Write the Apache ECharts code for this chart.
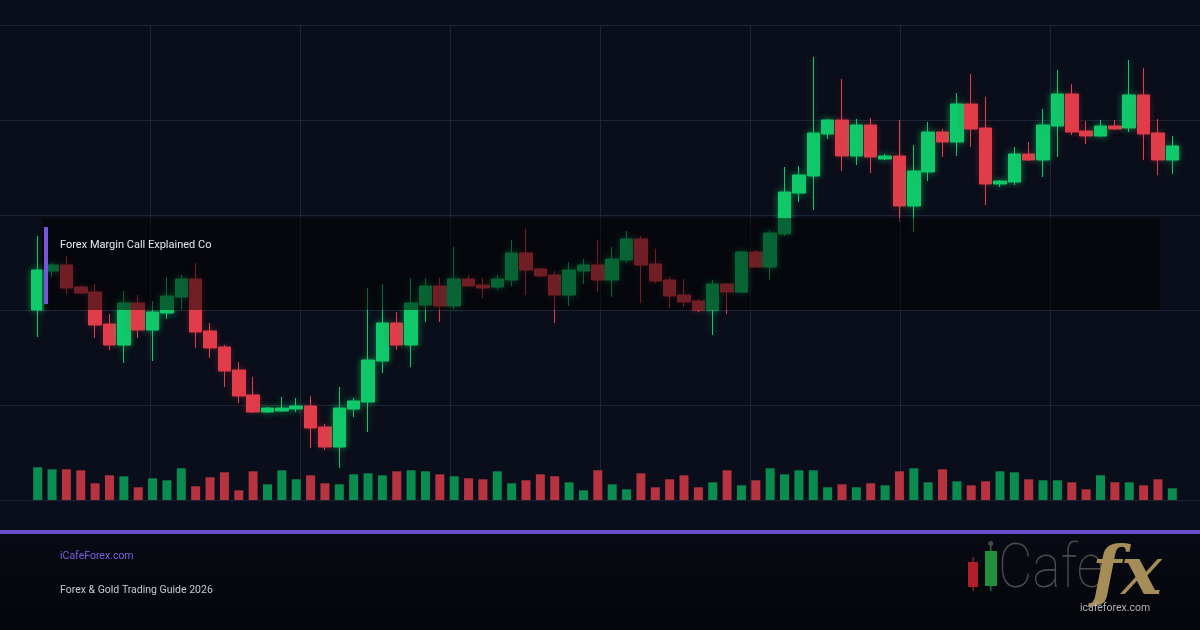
<!DOCTYPE html>
<html>
<head>
<meta charset="utf-8">
<script src="https://cdn.jsdelivr.net/npm/echarts@6/dist/echarts.min.js"></script>
<style>
html,body{margin:0;padding:0;background:#0a0e1a;}
#chart{width:1200px;height:630px;}
</style>
</head>
<body>
<div id="chart"></div>
<script>
// ---- data ----
var categories = Array.from({length: 80}, function (_, i) { return 'D' + (i + 1); });
// [open, close, low, high]
var ohlc = [
  [2190,2230,2163,2264],[2229,2235,2223,2237],[2235,2212,2206,2244],[2213,2207,2206,2214],
  [2208,2175,2162,2216],[2176,2155,2150,2186],[2155,2197,2137,2209],[2197,2170,2162,2205],
  [2170,2188,2139,2199],[2187,2204,2181,2223],[2203,2221,2190,2225],[2221,2168,2152,2237],
  [2169,2152,2142,2177],[2153,2129,2113,2155],[2130,2104,2097,2138],[2105,2088,2087,2123],
  [2088,2092,2087,2093],[2089,2092,2088,2103],[2091,2094,2088,2102],[2094,2072,2052,2104],
  [2073,2053,2050,2076],[2053,2092,2032,2113],[2091,2099,2083,2102],[2098,2140,2068,2212],
  [2139,2177,2127,2216],[2177,2155,2150,2188],[2155,2197,2133,2222],[2195,2214,2178,2222],
  [2214,2194,2178,2222],[2194,2221,2191,2253],[2221,2214,2214,2225],[2215,2212,2202,2222],
  [2213,2221,2210,2225],[2220,2247,2214,2260],[2247,2230,2205,2271],[2231,2224,2223,2232],
  [2225,2205,2177,2229],[2205,2230,2194,2238],[2229,2235,2216,2241],[2235,2220,2208,2260],
  [2220,2241,2203,2253],[2240,2261,2237,2269],[2261,2235,2197,2264],[2236,2219,2217,2251],
  [2220,2204,2192,2223],[2205,2198,2193,2221],[2199,2190,2188,2201],[2190,2216,2165,2220],
  [2216,2208,2186,2217],[2208,2248,2207,2249],[2248,2233,2233,2250],[2233,2267,2220,2270],
  [2266,2308,2264,2333],[2307,2325,2298,2334],[2324,2367,2290,2443],[2366,2380,2361,2381],
  [2380,2344,2329,2421],[2344,2375,2335,2381],[2375,2343,2327,2382],[2341,2344,2340,2346],
  [2344,2294,2278,2380],[2294,2329,2268,2355],[2328,2368,2319,2378],[2368,2358,2343,2371],
  [2358,2396,2344,2407],[2396,2371,2353,2426],[2372,2316,2295,2403],[2316,2319,2313,2320],
  [2318,2346,2315,2353],[2346,2340,2339,2358],[2340,2375,2323,2391],[2374,2406,2343,2430],
  [2406,2368,2365,2416],[2369,2364,2356,2379],[2364,2374,2363,2380],[2374,2371,2370,2380],
  [2372,2405,2368,2440],[2405,2366,2340,2432],[2367,2340,2325,2381],[2340,2354,2326,2364]
];
var volumes = [
  32.7,30.7,30.7,29.7,16.7,24.7,23.7,12.7,21.7,19.7,31.7,13.7,22.7,27.7,9.7,28.7,
  15.7,29.7,20.7,24.7,16.7,15.7,25.7,26.7,24.7,28.7,29.7,28.7,25.7,23.7,21.7,20.7,
  28.7,16.7,19.7,25.7,23.7,17.7,9.7,29.7,15.7,10.7,26.7,12.7,20.7,24.7,12.7,17.7,
  29.7,14.7,19.7,31.7,25.7,29.7,29.7,12.7,15.7,12.7,16.7,14.7,28.7,31.7,17.7,30.7,
  18.7,14.7,18.7,28.7,27.7,20.7,19.7,19.7,17.7,10.7,24.7,17.7,17.7,14.7,20.7,11.7
];
var titleText = 'Forex Margin Call Explained Co';
var siteText = 'iCafeForex.com';
var subtitleText = 'Forex & Gold Trading Guide 2026';

// ---- styles ----
var UP = '#10c96b', DOWN = '#e23d4b';
var UP_VOL = '#0a8c50', DOWN_VOL = '#b7333f';
var GRID_LINE = '#1f2537';

var candleData = ohlc.map(function (d) {
  var up = d[1] >= d[0];
  return {
    value: d,
    itemStyle: { shadowBlur: 7, shadowColor: up ? 'rgba(16,201,107,0.55)' : 'rgba(226,61,75,0.3)' }
  };
});

var chart = echarts.init(document.getElementById('chart'), null, {renderer: 'canvas'});
var option = {
  animation: false,
  backgroundColor: '#0a0e1a',
  grid: [
    {left: 0, right: 0, top: 25, height: 475},
    {left: 30.5, right: 20.5, top: 25, height: 475},
    {left: 30.5, right: 20.5, top: 440, height: 60}
  ],
  xAxis: [
    {gridIndex: 0, type: 'value', min: 0, max: 8, interval: 1,
     axisLabel: {show: false}, axisLine: {show: false}, axisTick: {show: false},
     splitLine: {show: true, showMinLine: false, showMaxLine: false, lineStyle: {color: GRID_LINE, width: 1}}},
    {gridIndex: 1, type: 'category', data: categories, boundaryGap: true, show: false},
    {gridIndex: 2, type: 'category', data: categories, boundaryGap: true, show: false}
  ],
  yAxis: [
    {gridIndex: 0, type: 'value', min: 0, max: 5, interval: 1,
     axisLabel: {show: false}, axisLine: {show: false}, axisTick: {show: false},
     splitLine: {show: true, lineStyle: {color: GRID_LINE, width: 1}}},
    {gridIndex: 1, type: 'value', min: 2000, max: 2475, show: false, splitLine: {show: false}},
    {gridIndex: 2, type: 'value', min: 0, max: 60, show: false, splitLine: {show: false}}
  ],
  series: [
    {
      type: 'candlestick', xAxisIndex: 1, yAxisIndex: 1,
      barWidth: 13,
      data: candleData,
      itemStyle: {color: UP, color0: DOWN, borderColor: UP, borderColor0: DOWN, borderWidth: 1}
    },
    {
      type: 'bar', xAxisIndex: 2, yAxisIndex: 2,
      barWidth: 9,
      data: volumes,
      itemStyle: {
        color: function (p) { var d = ohlc[p.dataIndex]; return d[1] >= d[0] ? UP_VOL : DOWN_VOL; }
      }
    }
  ],
  graphic: [
    // darker overlay card
    {type: 'rect', z: 100, shape: {x: 42, y: 218, width: 1118, height: 92},
     style: {fill: 'rgba(0,0,0,0.5)'}},
    {type: 'rect', z: 101, shape: {x: 44, y: 227, width: 4, height: 77},
     style: {fill: '#7657dc'}},
    {type: 'text', z: 101, x: 60, y: 245.5,
     style: {text: titleText, fill: '#e9e9f1', font: '11px Roboto', verticalAlign: 'middle'}},
    // footer background
    {type: 'rect', z: 50, shape: {x: 0, y: 532, width: 1200, height: 98},
     style: {fill: new echarts.graphic.LinearGradient(0, 0, 0, 1, [
       {offset: 0, color: '#080b14'}, {offset: 1, color: '#04050a'}])}},
    // purple divider
    {type: 'rect', z: 101, shape: {x: 0, y: 530, width: 1200, height: 4},
     style: {fill: '#6a4ecb'}},
    {type: 'text', z: 101, x: 60, y: 556,
     style: {text: siteText, fill: '#7a60e0', font: '10.5px Roboto', verticalAlign: 'middle'}},
    {type: 'text', z: 101, x: 60, y: 590,
     style: {text: subtitleText, fill: '#c9c9d2', font: '10.5px Roboto', verticalAlign: 'middle'}},
    // logo
    {type: 'rect', z: 101, shape: {x: 972.5, y: 557, width: 1.5, height: 34}, style: {fill: '#8f1c22'}},
    {type: 'rect', z: 102, shape: {x: 968, y: 562, width: 10, height: 25}, style: {fill: '#b01f27'}},
    {type: 'rect', z: 101, shape: {x: 990, y: 545, width: 1.5, height: 46}, style: {fill: '#1d6e34'}},
    {type: 'circle', z: 101, shape: {cx: 990.7, cy: 543.5, r: 2.5}, style: {fill: '#4a4a4a'}},
    {type: 'rect', z: 102, shape: {x: 985, y: 551, width: 12, height: 35}, style: {fill: '#23903f'}},
    {type: 'text', z: 101, x: 998, y: 571, scaleX: 0.86,
     style: {text: 'Cafe', fill: '#4b4b4b', font: '100 62px Roboto', verticalAlign: 'middle'}},
    {type: 'text', z: 102, x: 1092, y: 576,
     style: {text: 'fx', fill: '#a68d58', font: 'italic bold 68px "DejaVu Serif"', verticalAlign: 'middle'}},
    {type: 'text', z: 103, x: 1080, y: 608,
     style: {text: 'icafeforex.com', fill: '#b3b3b3', font: '10.5px Roboto', verticalAlign: 'middle'}}
  ]
};
chart.setOption(option);
</script>
</body>
</html>
